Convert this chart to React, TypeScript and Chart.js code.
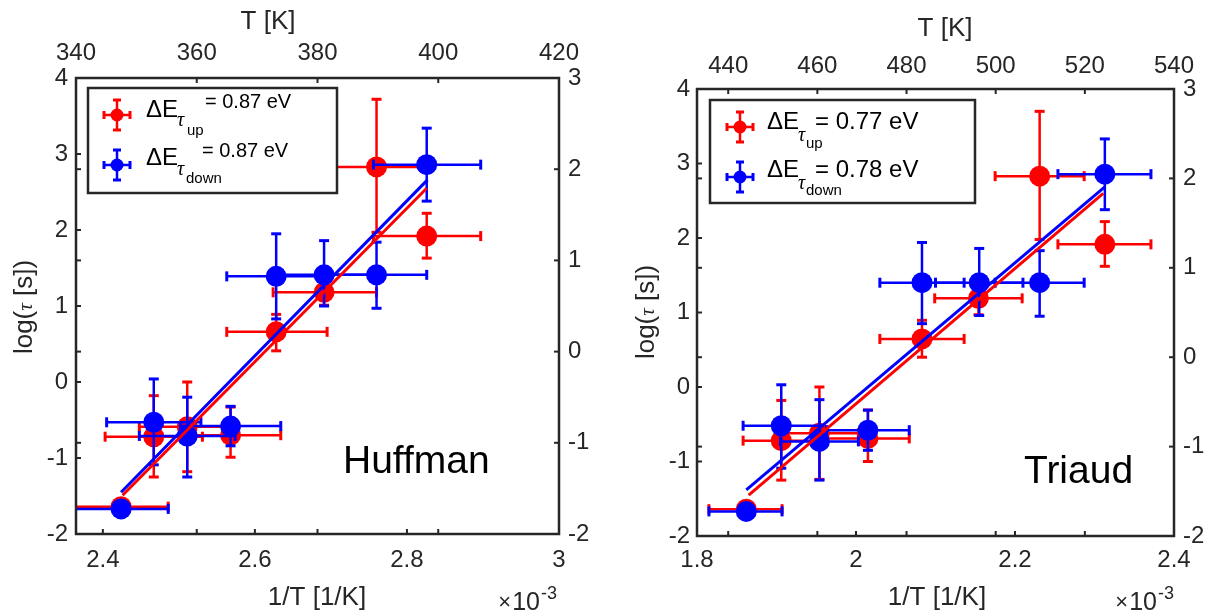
import React, { useEffect, useRef } from "react";
import { Chart, registerables } from "chart.js";

Chart.register(...registerables);

const FONT = '"Liberation Sans", Arial, Helvetica, sans-serif';
const SERIF = '"Liberation Serif", "DejaVu Serif", serif';
const AXIS = "#262626";
const RED = "#ff0000";
const BLUE = "#0000ff";

// ---------------- Huffman panel data (1/T in 1e-3 1/K, log(tau)) ----------------
const huffUpX = [2.424, 2.467, 2.511, 2.568, 2.628, 2.691, 2.76, 2.826];
const huffUpY = [-1.64, -0.72, -0.59, -0.7, 0.66, 1.18, 2.83, 1.92];
const huffUpXLo = [2.362, 2.403, 2.448, 2.501, 2.563, 2.624, 2.69, 2.756];
const huffUpXHi = [2.486, 2.531, 2.576, 2.634, 2.695, 2.76, 2.83, 2.897];
const huffUpYLo = [-1.64, -1.25, -1.18, -0.99, 0.41, 1.01, 1.97, 1.63];
const huffUpYHi = [-1.64, -0.18, 0.0, -0.33, 0.89, 1.35, 3.72, 2.22];

const huffDownX = [2.424, 2.467, 2.511, 2.568, 2.628, 2.691, 2.76, 2.826];
const huffDownY = [-1.67, -0.53, -0.71, -0.58, 1.39, 1.41, 1.41, 2.86];
const huffDownXLo = [2.362, 2.405, 2.448, 2.502, 2.563, 2.624, 2.69, 2.756];
const huffDownXHi = [2.486, 2.529, 2.574, 2.634, 2.695, 2.758, 2.826, 2.897];
const huffDownYLo = [-1.67, -1.09, -1.25, -0.84, 0.83, 1.0, 0.97, 2.38];
const huffDownYHi = [-1.67, 0.04, -0.2, -0.32, 1.95, 1.86, 1.84, 3.34];

const huffFitUpX = [2.426, 2.826];
const huffFitUpY = [-1.49, 2.55];
const huffFitDownX = [2.424, 2.827];
const huffFitDownY = [-1.45, 2.66];

const huffXTicks = [2.4, 2.6, 2.8, 3.0];
const huffTopTicks = [340, 360, 380, 400, 420];

// ---------------- Triaud panel data ----------------
const triUpX = [1.862, 1.906, 1.954, 2.015, 2.083, 2.154, 2.231, 2.313];
const triUpY = [-1.64, -0.72, -0.62, -0.69, 0.645, 1.19, 2.83, 1.915];
const triUpXLo = [1.815, 1.858, 1.905, 1.963, 2.03, 2.099, 2.175, 2.254];
const triUpXHi = [1.907, 1.954, 2.003, 2.067, 2.136, 2.209, 2.287, 2.371];
const triUpYLo = [-1.64, -1.25, -1.24, -1.0, 0.4, 0.97, 1.98, 1.62];
const triUpYHi = [-1.64, -0.18, 0.0, -0.31, 0.895, 1.35, 3.7, 2.22];

const triDownX = [1.862, 1.906, 1.954, 2.015, 2.083, 2.155, 2.231, 2.313];
const triDownY = [-1.67, -0.52, -0.73, -0.58, 1.4, 1.4, 1.4, 2.857];
const triDownXLo = [1.815, 1.858, 1.905, 1.963, 2.03, 2.1, 2.175, 2.254];
const triDownXHi = [1.907, 1.954, 2.003, 2.067, 2.136, 2.21, 2.287, 2.371];
const triDownYLo = [-1.67, -1.09, -1.25, -0.85, 0.85, 0.96, 0.95, 2.38];
const triDownYHi = [-1.67, 0.03, -0.17, -0.31, 1.94, 1.86, 1.83, 3.33];

const triFitUpX = [1.865, 2.311];
const triFitUpY = [-1.45, 2.6];
const triFitDownX = [1.862, 2.313];
const triFitDownY = [-1.38, 2.685];

const triXTicks = [1.8, 2.0, 2.2, 2.4];
const triTopTicks = [440, 460, 480, 500, 520, 540];

const leftTicks = [-2, -1, 0, 1, 2, 3, 4];
const rightTicks = [-2, -1, 0, 1, 2, 3];

const huffUpLabel = "= 0.87 eV";
const huffDownLabel = "= 0.87 eV";
const triUpLabel = "= 0.77 eV";
const triDownLabel = "= 0.78 eV";

// ---------------- types ----------------
type Series = {
  x: number[];
  y: number[];
  xLo: number[];
  xHi: number[];
  yLo: number[];
  yHi: number[];
  color: string;
};

type LegendRow = {
  color: string;
  mx: number; my: number;
  dx: number; dy: number;
  tx: number; ty: number;
  sub: string; sx: number; sy: number;
  val: string; vx: number; vy: number; vsize: number;
};

type Spec = {
  area: { left: number; right: number; top: number; bottom: number };
  xRange: [number, number];
  xTicks: number[];
  topRange: [number, number];
  topTicks: number[];
  yRange: [number, number];
  yTicks: number[];
  y2Range: [number, number];
  y2Ticks: number[];
  up: Series;
  down: Series;
  fitUp: { x: number[]; y: number[] };
  fitDown: { x: number[]; y: number[] };
  pad: { left: number; right: number; top: number; bottom: number };
  legendBox: [number, number, number, number];
  legendRows: LegendRow[];
  name: { text: string; x: number; y: number };
  topTitle: { x: number; y: number };
  bottomTitle: { x: number; y: number };
  leftTitle: { x: number; y: number };
  exponent: { right: number; y: number };
};

const W = 1211;
const H = 615;

const huffSpec: Spec = {
  area: { left: 76, right: 559, top: 78, bottom: 534 },
  xRange: [2.3647, 3.0],
  xTicks: huffXTicks,
  topRange: [340, 420],
  topTicks: huffTopTicks,
  yRange: [-2, 4],
  yTicks: leftTicks,
  y2Range: [-2, 3],
  y2Ticks: rightTicks,
  up: { x: huffUpX, y: huffUpY, xLo: huffUpXLo, xHi: huffUpXHi, yLo: huffUpYLo, yHi: huffUpYHi, color: RED },
  down: { x: huffDownX, y: huffDownY, xLo: huffDownXLo, xHi: huffDownXHi, yLo: huffDownYLo, yHi: huffDownYHi, color: BLUE },
  fitUp: { x: huffFitUpX, y: huffFitUpY },
  fitDown: { x: huffFitDownX, y: huffFitDownY },
  pad: { left: 8, right: 9, top: 10, bottom: 12 },
  legendBox: [88, 88, 337, 193],
  legendRows: [
    { color: RED, mx: 117, my: 115, dx: 146, dy: 117, tx: 177, ty: 126, sub: "up", sx: 187, sy: 135, val: huffUpLabel, vx: 205, vy: 108, vsize: 20 },
    { color: BLUE, mx: 117, my: 165, dx: 146, dy: 165, tx: 177, ty: 175, sub: "down", sx: 186, sy: 183, val: huffDownLabel, vx: 202, vy: 157, vsize: 20 },
  ],
  name: { text: "Huffman", x: 343, y: 473 },
  topTitle: { x: 268, y: 29 },
  bottomTitle: { x: 317, y: 605 },
  leftTitle: { x: 32, y: 307 },
  exponent: { right: 557, y: 610 },
};

const triSpec: Spec = {
  area: { left: 697, right: 1174, top: 89, bottom: 536 },
  xRange: [1.8, 2.4],
  xTicks: triXTicks,
  topRange: [433, 540],
  topTicks: triTopTicks,
  yRange: [-2, 4],
  yTicks: leftTicks,
  y2Range: [-2, 3],
  y2Ticks: rightTicks,
  up: { x: triUpX, y: triUpY, xLo: triUpXLo, xHi: triUpXHi, yLo: triUpYLo, yHi: triUpYHi, color: RED },
  down: { x: triDownX, y: triDownY, xLo: triDownXLo, xHi: triDownXHi, yLo: triDownYLo, yHi: triDownYHi, color: BLUE },
  fitUp: { x: triFitUpX, y: triFitUpY },
  fitDown: { x: triFitDownX, y: triFitDownY },
  pad: { left: 7, right: 9, top: 8, bottom: 10 },
  legendBox: [710, 100, 975, 203],
  legendRows: [
    { color: RED, mx: 740, my: 127, dx: 767, dy: 129, tx: 798, ty: 141, sub: "up", sx: 806, sy: 148, val: triUpLabel, vx: 815, vy: 129, vsize: 24 },
    { color: BLUE, mx: 740, my: 177, dx: 767, dy: 177, tx: 798, ty: 189, sub: "down", sx: 806, sy: 195, val: triDownLabel, vx: 815, vy: 177, vsize: 24 },
  ],
  name: { text: "Triaud", x: 1024, y: 483 },
  topTitle: { x: 945, y: 36 },
  bottomTitle: { x: 937, y: 605 },
  leftTitle: { x: 654, y: 312 },
  exponent: { right: 1174, y: 610 },
};

function line(ctx: CanvasRenderingContext2D, x1: number, y1: number, x2: number, y2: number) {
  ctx.beginPath();
  ctx.moveTo(x1, y1);
  ctx.lineTo(x2, y2);
  ctx.stroke();
}

function makeOverlay(spec: Spec) {
  return {
    id: "overlay",
    beforeDatasetDraw(chart: any, args: any) {
      const ds: any = chart.data.datasets[args.index];
      const s: Series | undefined = ds.errSeries;
      if (!s) return;
      const ctx: CanvasRenderingContext2D = chart.ctx;
      const xs = chart.scales.x;
      const ys = chart.scales.y;
      const a = chart.chartArea;
      ctx.save();
      ctx.beginPath();
      ctx.rect(a.left, a.top, a.right - a.left, a.bottom - a.top);
      ctx.clip();
      ctx.strokeStyle = s.color;
      ctx.lineCap = "butt";
      const cap = 5;
      for (let i = 0; i < s.x.length; i++) {
        const px = xs.getPixelForValue(s.x[i]);
        const py = ys.getPixelForValue(s.y[i]);
        const xl = xs.getPixelForValue(s.xLo[i]);
        const xh = xs.getPixelForValue(s.xHi[i]);
        ctx.lineWidth = 2.5;
        line(ctx, xl, py, xh, py);
        ctx.lineWidth = 3;
        line(ctx, xl, py - cap, xl, py + cap);
        line(ctx, xh, py - cap, xh, py + cap);
        if (s.yLo[i] !== s.yHi[i]) {
          const yl = ys.getPixelForValue(s.yLo[i]);
          const yh = ys.getPixelForValue(s.yHi[i]);
          ctx.lineWidth = 2.5;
          line(ctx, px, yl, px, yh);
          ctx.lineWidth = 3;
          line(ctx, px - cap, yl, px + cap, yl);
          line(ctx, px - cap, yh, px + cap, yh);
        }
      }
      ctx.restore();
    },
    afterDatasetsDraw(chart: any) {
      const ctx: CanvasRenderingContext2D = chart.ctx;
      const a = chart.chartArea;
      const xs = chart.scales.x;
      const xt = chart.scales.xTop;
      const ys = chart.scales.y;
      const yr = chart.scales.yRight;
      const tl = 5;
      ctx.save();
      ctx.strokeStyle = AXIS;
      ctx.lineWidth = 2;
      // inward ticks
      spec.yTicks.forEach((v) => {
        const p = ys.getPixelForValue(v);
        line(ctx, a.left, p, a.left + tl, p);
      });
      spec.y2Ticks.forEach((v) => {
        const p = yr.getPixelForValue(v);
        line(ctx, a.left, p, a.left + tl, p);
        line(ctx, a.right, p, a.right - tl, p);
      });
      spec.xTicks.forEach((v) => {
        const p = xs.getPixelForValue(v);
        line(ctx, p, a.bottom, p, a.bottom - tl);
      });
      spec.topTicks.forEach((v) => {
        const p = xt.getPixelForValue(v);
        line(ctx, p, a.bottom, p, a.bottom - tl);
        line(ctx, p, a.top, p, a.top + tl);
      });
      // box
      ctx.lineWidth = 2.5;
      ctx.strokeRect(a.left, a.top, a.right - a.left, a.bottom - a.top);

      // legend
      const [lx1, ly1, lx2, ly2] = spec.legendBox;
      ctx.fillStyle = "#ffffff";
      ctx.fillRect(lx1, ly1, lx2 - lx1, ly2 - ly1);
      ctx.strokeStyle = AXIS;
      ctx.lineWidth = 2.5;
      ctx.strokeRect(lx1, ly1, lx2 - lx1, ly2 - ly1);
      spec.legendRows.forEach((r) => {
        ctx.strokeStyle = r.color;
        ctx.fillStyle = r.color;
        ctx.lineWidth = 2.5;
        line(ctx, r.mx, r.my - 15, r.mx, r.my + 15);
        line(ctx, r.mx - 13, r.my, r.mx + 13, r.my);
        ctx.lineWidth = 3;
        line(ctx, r.mx - 4, r.my - 15, r.mx + 4, r.my - 15);
        line(ctx, r.mx - 4, r.my + 15, r.mx + 4, r.my + 15);
        line(ctx, r.mx - 13, r.my - 4, r.mx - 13, r.my + 4);
        line(ctx, r.mx + 13, r.my - 4, r.mx + 13, r.my + 4);
        ctx.beginPath();
        ctx.arc(r.mx, r.my, 6.5, 0, Math.PI * 2);
        ctx.fill();

        ctx.fillStyle = "#000000";
        ctx.textAlign = "left";
        ctx.textBaseline = "alphabetic";
        ctx.font = `24px ${FONT}`;
        ctx.fillText("\u0394E", r.dx, r.dy);
        ctx.font = `italic 20px ${SERIF}`;
        ctx.fillText("\u03C4", r.tx, r.ty);
        ctx.font = `15px ${FONT}`;
        ctx.fillText(r.sub, r.sx, r.sy);
        ctx.font = `${r.vsize}px ${FONT}`;
        ctx.fillText(r.val, r.vx, r.vy);
      });
      ctx.restore();
    },
    afterDraw(chart: any) {
      const ctx: CanvasRenderingContext2D = chart.ctx;
      ctx.save();
      ctx.fillStyle = AXIS;
      ctx.textBaseline = "alphabetic";
      ctx.textAlign = "center";
      ctx.font = `26px ${FONT}`;
      ctx.fillText("T [K]", spec.topTitle.x, spec.topTitle.y);
      ctx.fillText("1/T [1/K]", spec.bottomTitle.x, spec.bottomTitle.y);

      // exponent  x10^-3
      ctx.textAlign = "right";
      ctx.font = `18px ${FONT}`;
      const supW = ctx.measureText("-3").width;
      ctx.fillText("-3", spec.exponent.right, spec.exponent.y - 11);
      ctx.font = `25px ${FONT}`;
      const tenW = ctx.measureText("10").width;
      ctx.fillText("10", spec.exponent.right - supW - 1, spec.exponent.y);
      ctx.font = `22px ${FONT}`;
      ctx.fillText("\u00D7", spec.exponent.right - supW - tenW - 2, spec.exponent.y - 1);

      // rotated y title: log(τ [s])
      ctx.save();
      ctx.translate(spec.leftTitle.x, spec.leftTitle.y);
      ctx.rotate(-Math.PI / 2);
      ctx.textAlign = "left";
      const p1 = "log(";
      const p2 = "\u03C4";
      const p3 = " [s])";
      ctx.font = `26px ${FONT}`;
      const w1 = ctx.measureText(p1).width;
      const w3 = ctx.measureText(p3).width;
      ctx.font = `italic 21px ${SERIF}`;
      const w2 = ctx.measureText(p2).width;
      let x0 = -(w1 + w2 + w3) / 2;
      ctx.font = `26px ${FONT}`;
      ctx.fillText(p1, x0, 0);
      x0 += w1;
      ctx.font = `italic 21px ${SERIF}`;
      ctx.fillText(p2, x0, 0);
      x0 += w2;
      ctx.font = `26px ${FONT}`;
      ctx.fillText(p3, x0, 0);
      ctx.restore();

      // panel name
      ctx.fillStyle = "#000000";
      ctx.textAlign = "left";
      ctx.font = `39px ${FONT}`;
      ctx.fillText(spec.name.text, spec.name.x, spec.name.y);
      ctx.restore();
    },
  };
}

function pts(xs: number[], ys: number[]) {
  return xs.map((x, i) => ({ x, y: ys[i] }));
}

function buildConfig(spec: Spec): any {
  const a = spec.area;
  const fixed = (ticks: number[]) => (scale: any) => {
    scale.ticks = ticks.map((v) => ({ value: v }));
  };
  const fmt = (v: any) => String(Number(Number(v).toFixed(2)));
  const tickFont = { family: FONT, size: 24 };
  const common = {
    type: "linear",
    grid: { display: false, drawTicks: false },
    border: { display: false },
  };
  return {
    type: "scatter",
    data: {
      datasets: [
        {
          label: "fit down",
          data: pts(spec.fitDown.x, spec.fitDown.y),
          showLine: true,
          borderColor: BLUE,
          borderWidth: 3,
          pointRadius: 0,
          order: 0,
          xAxisID: "x",
          yAxisID: "y",
        },
        {
          label: "fit up",
          data: pts(spec.fitUp.x, spec.fitUp.y),
          showLine: true,
          borderColor: RED,
          borderWidth: 3,
          pointRadius: 0,
          order: 1,
          xAxisID: "x",
          yAxisID: "y",
        },
        {
          label: "tau down",
          data: pts(spec.down.x, spec.down.y),
          pointRadius: 10.5,
          pointBackgroundColor: BLUE,
          pointBorderColor: BLUE,
          pointBorderWidth: 0,
          order: 2,
          xAxisID: "x",
          yAxisID: "y",
          errSeries: spec.down,
        },
        {
          label: "tau up",
          data: pts(spec.up.x, spec.up.y),
          pointRadius: 10.5,
          pointBackgroundColor: RED,
          pointBorderColor: RED,
          pointBorderWidth: 0,
          order: 3,
          xAxisID: "x",
          yAxisID: "y",
          errSeries: spec.up,
        },
      ],
    },
    options: {
      responsive: false,
      maintainAspectRatio: false,
      animation: false,
      events: [],
      layout: { padding: 0, autoPadding: false },
      plugins: { legend: { display: false }, tooltip: { enabled: false }, title: { display: false } },
      scales: {
        x: {
          ...common,
          position: "bottom",
          min: spec.xRange[0],
          max: spec.xRange[1],
          afterBuildTicks: fixed(spec.xTicks),
          afterFit: (s: any) => {
            s.height = H - a.bottom;
          },
          ticks: { font: tickFont, color: AXIS, padding: spec.pad.bottom, callback: fmt, maxRotation: 0, minRotation: 0, autoSkip: false },
        },
        xTop: {
          ...common,
          position: "top",
          min: spec.topRange[0],
          max: spec.topRange[1],
          afterBuildTicks: fixed(spec.topTicks),
          afterFit: (s: any) => {
            s.height = a.top;
          },
          ticks: { font: tickFont, color: AXIS, padding: spec.pad.top, callback: fmt, maxRotation: 0, minRotation: 0, autoSkip: false },
        },
        y: {
          ...common,
          position: "left",
          min: spec.yRange[0],
          max: spec.yRange[1],
          afterBuildTicks: fixed(spec.yTicks),
          afterFit: (s: any) => {
            s.width = a.left;
          },
          ticks: { font: tickFont, color: AXIS, padding: spec.pad.left, callback: fmt, autoSkip: false },
        },
        yRight: {
          ...common,
          position: "right",
          min: spec.y2Range[0],
          max: spec.y2Range[1],
          afterBuildTicks: fixed(spec.y2Ticks),
          afterFit: (s: any) => {
            s.width = W - a.right;
          },
          ticks: { font: tickFont, color: AXIS, padding: spec.pad.right, callback: fmt, autoSkip: false },
        },
      },
    },
    plugins: [makeOverlay(spec)],
  };
}

function Panel({ spec }: { spec: Spec }) {
  const ref = useRef<HTMLCanvasElement>(null);
  useEffect(() => {
    if (!ref.current) return;
    const chart = new Chart(ref.current, buildConfig(spec));
    return () => chart.destroy();
  }, [spec]);
  return (
    <canvas
      ref={ref}
      width={W}
      height={H}
      style={{ position: "absolute", left: 0, top: 0, width: W, height: H }}
    />
  );
}

export default function App() {
  return (
    <div
      style={{
        position: "fixed",
        left: 0,
        top: 0,
        width: W,
        height: H,
        background: "#ffffff",
        overflow: "hidden",
      }}
    >
      <Panel spec={huffSpec} />
      <Panel spec={triSpec} />
    </div>
  );
}
